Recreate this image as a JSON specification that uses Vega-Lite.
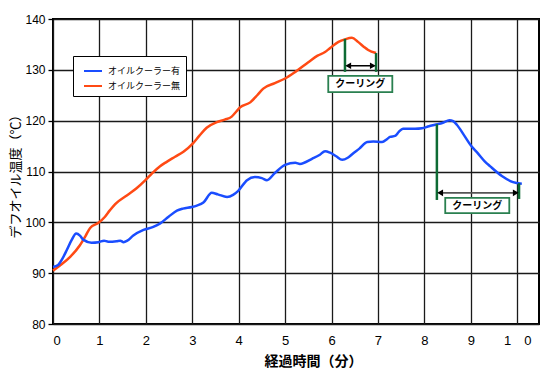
{
  "$schema": "https://vega.github.io/schema/vega-lite/v6.json",
  "width": 486,
  "height": 305,
  "autosize": {"type": "none"},
  "padding": {"left": 53, "top": 19, "right": 11, "bottom": 58},
  "background": "white",
  "config": {
    "view": {"stroke": "#000", "strokeWidth": 2},
    "font": "Liberation Sans"
  },
  "datasets": {
    "curves": [
      {"t": 0, "temp": 90.5, "series": "オイルクーラー無"},
      {"t": 0.15, "temp": 91.5, "series": "オイルクーラー無"},
      {"t": 0.37, "temp": 93.2, "series": "オイルクーラー無"},
      {"t": 0.58, "temp": 95.5, "series": "オイルクーラー無"},
      {"t": 0.7, "temp": 97.3, "series": "オイルクーラー無"},
      {"t": 0.8, "temp": 98.9, "series": "オイルクーラー無"},
      {"t": 0.98, "temp": 99.9, "series": "オイルクーラー無"},
      {"t": 1.12, "temp": 101.1, "series": "オイルクーラー無"},
      {"t": 1.22, "temp": 102.3, "series": "オイルクーラー無"},
      {"t": 1.34, "temp": 103.6, "series": "オイルクーラー無"},
      {"t": 1.59, "temp": 105.3, "series": "オイルクーラー無"},
      {"t": 1.8, "temp": 106.7, "series": "オイルクーラー無"},
      {"t": 1.98, "temp": 108.2, "series": "オイルクーラー無"},
      {"t": 2.13, "temp": 109.6, "series": "オイルクーラー無"},
      {"t": 2.3, "temp": 111.0, "series": "オイルクーラー無"},
      {"t": 2.45, "temp": 111.9, "series": "オイルクーラー無"},
      {"t": 2.63, "temp": 112.9, "series": "オイルクーラー無"},
      {"t": 2.81, "temp": 113.9, "series": "オイルクーラー無"},
      {"t": 3.02, "temp": 115.6, "series": "オイルクーラー無"},
      {"t": 3.15, "temp": 117.0, "series": "オイルクーラー無"},
      {"t": 3.31, "temp": 118.6, "series": "オイルクーラー無"},
      {"t": 3.53, "temp": 119.7, "series": "オイルクーラー無"},
      {"t": 3.7, "temp": 120.2, "series": "オイルクーラー無"},
      {"t": 3.85, "temp": 120.8, "series": "オイルクーラー無"},
      {"t": 3.95, "temp": 121.8, "series": "オイルクーラー無"},
      {"t": 4.03, "temp": 122.6, "series": "オイルクーラー無"},
      {"t": 4.25, "temp": 123.6, "series": "オイルクーラー無"},
      {"t": 4.4, "temp": 125.0, "series": "オイルクーラー無"},
      {"t": 4.53, "temp": 126.3, "series": "オイルクーラー無"},
      {"t": 4.78, "temp": 127.4, "series": "オイルクーラー無"},
      {"t": 5.0, "temp": 128.3, "series": "オイルクーラー無"},
      {"t": 5.22, "temp": 129.6, "series": "オイルクーラー無"},
      {"t": 5.5, "temp": 131.5, "series": "オイルクーラー無"},
      {"t": 5.7, "temp": 132.8, "series": "オイルクーラー無"},
      {"t": 5.86, "temp": 133.5, "series": "オイルクーラー無"},
      {"t": 5.97, "temp": 134.3, "series": "オイルクーラー無"},
      {"t": 6.15, "temp": 135.5, "series": "オイルクーラー無"},
      {"t": 6.29, "temp": 136.0, "series": "オイルクーラー無"},
      {"t": 6.44, "temp": 136.3, "series": "オイルクーラー無"},
      {"t": 6.57, "temp": 135.5, "series": "オイルクーラー無"},
      {"t": 6.7, "temp": 134.5, "series": "オイルクーラー無"},
      {"t": 6.79, "temp": 133.9, "series": "オイルクーラー無"},
      {"t": 6.96, "temp": 133.3, "series": "オイルクーラー無"},
      {"t": 0, "temp": 91.2, "series": "オイルクーラー有"},
      {"t": 0.11, "temp": 91.6, "series": "オイルクーラー有"},
      {"t": 0.2, "temp": 92.8, "series": "オイルクーラー有"},
      {"t": 0.3, "temp": 94.6, "series": "オイルクーラー有"},
      {"t": 0.4, "temp": 96.5, "series": "オイルクーラー有"},
      {"t": 0.5, "temp": 97.8, "series": "オイルクーラー有"},
      {"t": 0.58, "temp": 97.4, "series": "オイルクーラー有"},
      {"t": 0.65, "temp": 96.6, "series": "オイルクーラー有"},
      {"t": 0.83, "temp": 96.0, "series": "オイルクーラー有"},
      {"t": 0.98, "temp": 96.1, "series": "オイルクーラー有"},
      {"t": 1.1, "temp": 96.4, "series": "オイルクーラー有"},
      {"t": 1.19, "temp": 96.2, "series": "オイルクーラー有"},
      {"t": 1.37, "temp": 96.3, "series": "オイルクーラー有"},
      {"t": 1.45, "temp": 96.4, "series": "オイルクーラー有"},
      {"t": 1.52, "temp": 96.1, "series": "オイルクーラー有"},
      {"t": 1.6, "temp": 96.4, "series": "オイルクーラー有"},
      {"t": 1.73, "temp": 97.4, "series": "オイルクーラー有"},
      {"t": 1.95, "temp": 98.5, "series": "オイルクーラー有"},
      {"t": 2.16, "temp": 99.1, "series": "オイルクーラー有"},
      {"t": 2.31, "temp": 99.8, "series": "オイルクーラー有"},
      {"t": 2.49, "temp": 101.1, "series": "オイルクーラー有"},
      {"t": 2.67, "temp": 102.3, "series": "オイルクーラー有"},
      {"t": 2.8, "temp": 102.7, "series": "オイルクーラー有"},
      {"t": 2.99, "temp": 103.0, "series": "オイルクーラー有"},
      {"t": 3.1, "temp": 103.3, "series": "オイルクーラー有"},
      {"t": 3.24, "temp": 103.9, "series": "オイルクーラー有"},
      {"t": 3.42, "temp": 105.8, "series": "オイルクーラー有"},
      {"t": 3.55, "temp": 105.5, "series": "オイルクーラー有"},
      {"t": 3.75, "temp": 105.0, "series": "オイルクーラー有"},
      {"t": 3.88, "temp": 105.4, "series": "オイルクーラー有"},
      {"t": 3.99, "temp": 106.2, "series": "オイルクーラー有"},
      {"t": 4.18, "temp": 108.3, "series": "オイルクーラー有"},
      {"t": 4.35, "temp": 108.9, "series": "オイルクーラー有"},
      {"t": 4.5, "temp": 108.7, "series": "オイルクーラー有"},
      {"t": 4.61, "temp": 108.3, "series": "オイルクーラー有"},
      {"t": 4.78, "temp": 109.7, "series": "オイルクーラー有"},
      {"t": 5.0, "temp": 111.3, "series": "オイルクーラー有"},
      {"t": 5.22, "temp": 111.7, "series": "オイルクーラー有"},
      {"t": 5.32, "temp": 111.5, "series": "オイルクーラー有"},
      {"t": 5.58, "temp": 112.5, "series": "オイルクーラー有"},
      {"t": 5.75, "temp": 113.3, "series": "オイルクーラー有"},
      {"t": 5.86, "temp": 114.0, "series": "オイルクーラー有"},
      {"t": 5.97, "temp": 113.7, "series": "オイルクーラー有"},
      {"t": 6.1, "temp": 113.0, "series": "オイルクーラー有"},
      {"t": 6.23, "temp": 112.3, "series": "オイルクーラー有"},
      {"t": 6.35, "temp": 112.7, "series": "オイルクーラー有"},
      {"t": 6.47, "temp": 113.6, "series": "オイルクーラー有"},
      {"t": 6.6, "temp": 114.5, "series": "オイルクーラー有"},
      {"t": 6.77, "temp": 115.8, "series": "オイルクーラー有"},
      {"t": 6.9, "temp": 115.9, "series": "オイルクーラー有"},
      {"t": 7.09, "temp": 115.8, "series": "オイルクーラー有"},
      {"t": 7.2, "temp": 116.4, "series": "オイルクーラー有"},
      {"t": 7.26, "temp": 116.8, "series": "オイルクーラー有"},
      {"t": 7.37, "temp": 117.0, "series": "オイルクーラー有"},
      {"t": 7.45, "temp": 117.8, "series": "オイルクーラー有"},
      {"t": 7.54, "temp": 118.4, "series": "オイルクーラー有"},
      {"t": 7.8, "temp": 118.4, "series": "オイルクーラー有"},
      {"t": 7.95, "temp": 118.5, "series": "オイルクーラー有"},
      {"t": 8.1, "temp": 118.9, "series": "オイルクーラー有"},
      {"t": 8.23, "temp": 119.2, "series": "オイルクーラー有"},
      {"t": 8.4, "temp": 119.6, "series": "オイルクーラー有"},
      {"t": 8.54, "temp": 120.1, "series": "オイルクーラー有"},
      {"t": 8.62, "temp": 119.9, "series": "オイルクーラー有"},
      {"t": 8.7, "temp": 119.2, "series": "オイルクーラー有"},
      {"t": 8.85, "temp": 117.2, "series": "オイルクーラー有"},
      {"t": 9.02, "temp": 114.9, "series": "オイルクーラー有"},
      {"t": 9.14, "temp": 113.7, "series": "オイルクーラー有"},
      {"t": 9.3, "temp": 112.0, "series": "オイルクーラー有"},
      {"t": 9.42, "temp": 111.0, "series": "オイルクーラー有"},
      {"t": 9.67, "temp": 109.1, "series": "オイルクーラー有"},
      {"t": 9.91, "temp": 107.9, "series": "オイルクーラー有"},
      {"t": 10.1, "temp": 107.6, "series": "オイルクーラー有"}
    ],
    "marks": [
      {"t": 6.29, "y1": 136.1, "y2": 129.6},
      {"t": 6.96, "y1": 133.3, "y2": 129.6},
      {"t": 8.27, "y1": 119.3, "y2": 104.4},
      {"t": 10.04, "y1": 107.7, "y2": 104.6}
    ],
    "arrows": [
      {"t1": 6.33, "t2": 6.92, "y": 130.8, "c": "a"},
      {"t1": 8.31, "t2": 10.0, "y": 105.8, "c": "b"}
    ],
    "heads": [
      {"t": 6.36, "y": 130.8, "dir": "left"},
      {"t": 6.89, "y": 130.8, "dir": "right"},
      {"t": 8.34, "y": 105.8, "dir": "left"},
      {"t": 9.97, "y": 105.8, "dir": "right"}
    ],
    "boxes": [
      {"t1": 5.93, "t2": 7.31, "y1": 128.8, "y2": 125.6, "tc": 6.62, "yc": 127.2, "label": "クーリング"},
      {"t1": 8.45, "t2": 9.83, "y1": 104.8, "y2": 101.8, "tc": 9.14, "yc": 103.3, "label": "クーリング"}
    ]
  },
  "layer": [
    {
      "data": {"name": "curves"},
      "mark": {"type": "line", "strokeWidth": 2.5, "interpolate": "monotone"},
      "encoding": {
        "x": {
          "field": "t", "type": "quantitative",
          "scale": {"domain": [0, 10.47], "nice": false, "zero": false},
          "axis": {
            "values": [0, 1, 2, 3, 4, 5, 6, 7, 8, 9, 10],
            "labelExpr": "datum.value == 10 ? '1　0' : datum.label",
            "grid": true, "gridColor": "#1a1a1a", "gridWidth": 1.3, "gridOpacity": 1,
            "domain": false, "ticks": false,
            "labelFontSize": 13, "labelColor": "#000", "labelPadding": 10,
            "labelFont": "Liberation Sans",
            "title": "経過時間（分）",
            "titleFont": "Noto Sans CJK JP", "titleFontSize": 14, "titleFontWeight": "bold",
            "titleColor": "#000",
            "titleX": 260, "titleY": 37, "titleBaseline": "middle", "titleAlign": "center"
          }
        },
        "y": {
          "field": "temp", "type": "quantitative",
          "scale": {"domain": [80, 140], "nice": false, "zero": false},
          "axis": {
            "values": [80, 90, 100, 110, 120, 130, 140],
            "grid": true, "gridColor": "#1a1a1a", "gridWidth": 1.3, "gridOpacity": 1,
            "domain": false, "ticks": true, "tickSize": 5, "tickColor": "#000", "tickWidth": 1.3,
            "labelFontSize": 12, "labelColor": "#000", "labelPadding": 3,
            "labelFont": "Liberation Sans",
            "title": "デフオイル温度（℃）",
            "titleFont": "Noto Sans CJK JP", "titleFontSize": 13, "titleFontWeight": "normal",
            "titleColor": "#000",
            "titleX": -38, "titleY": 154, "titleAngle": -90, "titleBaseline": "middle", "titleAlign": "center"
          }
        },
        "color": {
          "field": "series", "type": "nominal",
          "scale": {"domain": ["オイルクーラー有", "オイルクーラー無"], "range": ["#1a4dff", "#ff4a14"]},
          "legend": {
            "orient": "none", "legendX": 20, "legendY": 37,
            "title": null,
            "strokeColor": "#000", "fillColor": "#fff", "padding": 5,
            "symbolType": "stroke", "symbolSize": 324, "symbolStrokeWidth": 2, "symbolOffset": 5,
            "labelFont": "Noto Sans CJK JP", "labelFontSize": 9, "labelColor": "#000",
            "labelExpr": "datum.label + '  '",
            "labelOffset": 5, "rowPadding": -2
          }
        }
      }
    },
    {
      "data": {"name": "marks"},
      "mark": {"type": "rule", "color": "#0e6b34", "strokeWidth": 2.5},
      "encoding": {
        "x": {"field": "t", "type": "quantitative"},
        "y": {"field": "y1", "type": "quantitative"},
        "y2": {"field": "y2"}
      }
    },
    {
      "data": {"name": "arrows"},
      "transform": [{"filter": "datum.c == 'a'"}],
      "mark": {"type": "rule", "strokeWidth": 1.5, "color": "#000"},
      "encoding": {
        "x": {"field": "t1", "type": "quantitative"},
        "x2": {"field": "t2"},
        "y": {"field": "y", "type": "quantitative"}
      }
    },
    {
      "data": {"name": "arrows"},
      "transform": [{"filter": "datum.c == 'b'"}],
      "mark": {"type": "rule", "strokeWidth": 1.8, "color": "#555"},
      "encoding": {
        "x": {"field": "t1", "type": "quantitative"},
        "x2": {"field": "t2"},
        "y": {"field": "y", "type": "quantitative"}
      }
    },
    {
      "data": {"name": "heads"},
      "mark": {"type": "point", "filled": true, "opacity": 1, "size": 45, "color": "#000"},
      "encoding": {
        "x": {"field": "t", "type": "quantitative"},
        "y": {"field": "y", "type": "quantitative"},
        "shape": {"field": "dir", "type": "nominal", "scale": {"domain": ["left", "right"], "range": ["triangle-left", "triangle-right"]}, "legend": null}
      }
    },
    {
      "data": {"name": "boxes"},
      "mark": {"type": "rect", "fill": "#fff", "stroke": "#2a8050", "strokeWidth": 1.8},
      "encoding": {
        "x": {"field": "t1", "type": "quantitative"},
        "x2": {"field": "t2"},
        "y": {"field": "y1", "type": "quantitative"},
        "y2": {"field": "y2"}
      }
    },
    {
      "data": {"name": "boxes"},
      "mark": {"type": "text", "font": "Noto Sans CJK JP", "fontSize": 10, "fontWeight": "bold", "color": "#000", "align": "center", "baseline": "middle"},
      "encoding": {
        "x": {"field": "tc", "type": "quantitative"},
        "y": {"field": "yc", "type": "quantitative"},
        "text": {"field": "label"}
      }
    }
  ]
}
